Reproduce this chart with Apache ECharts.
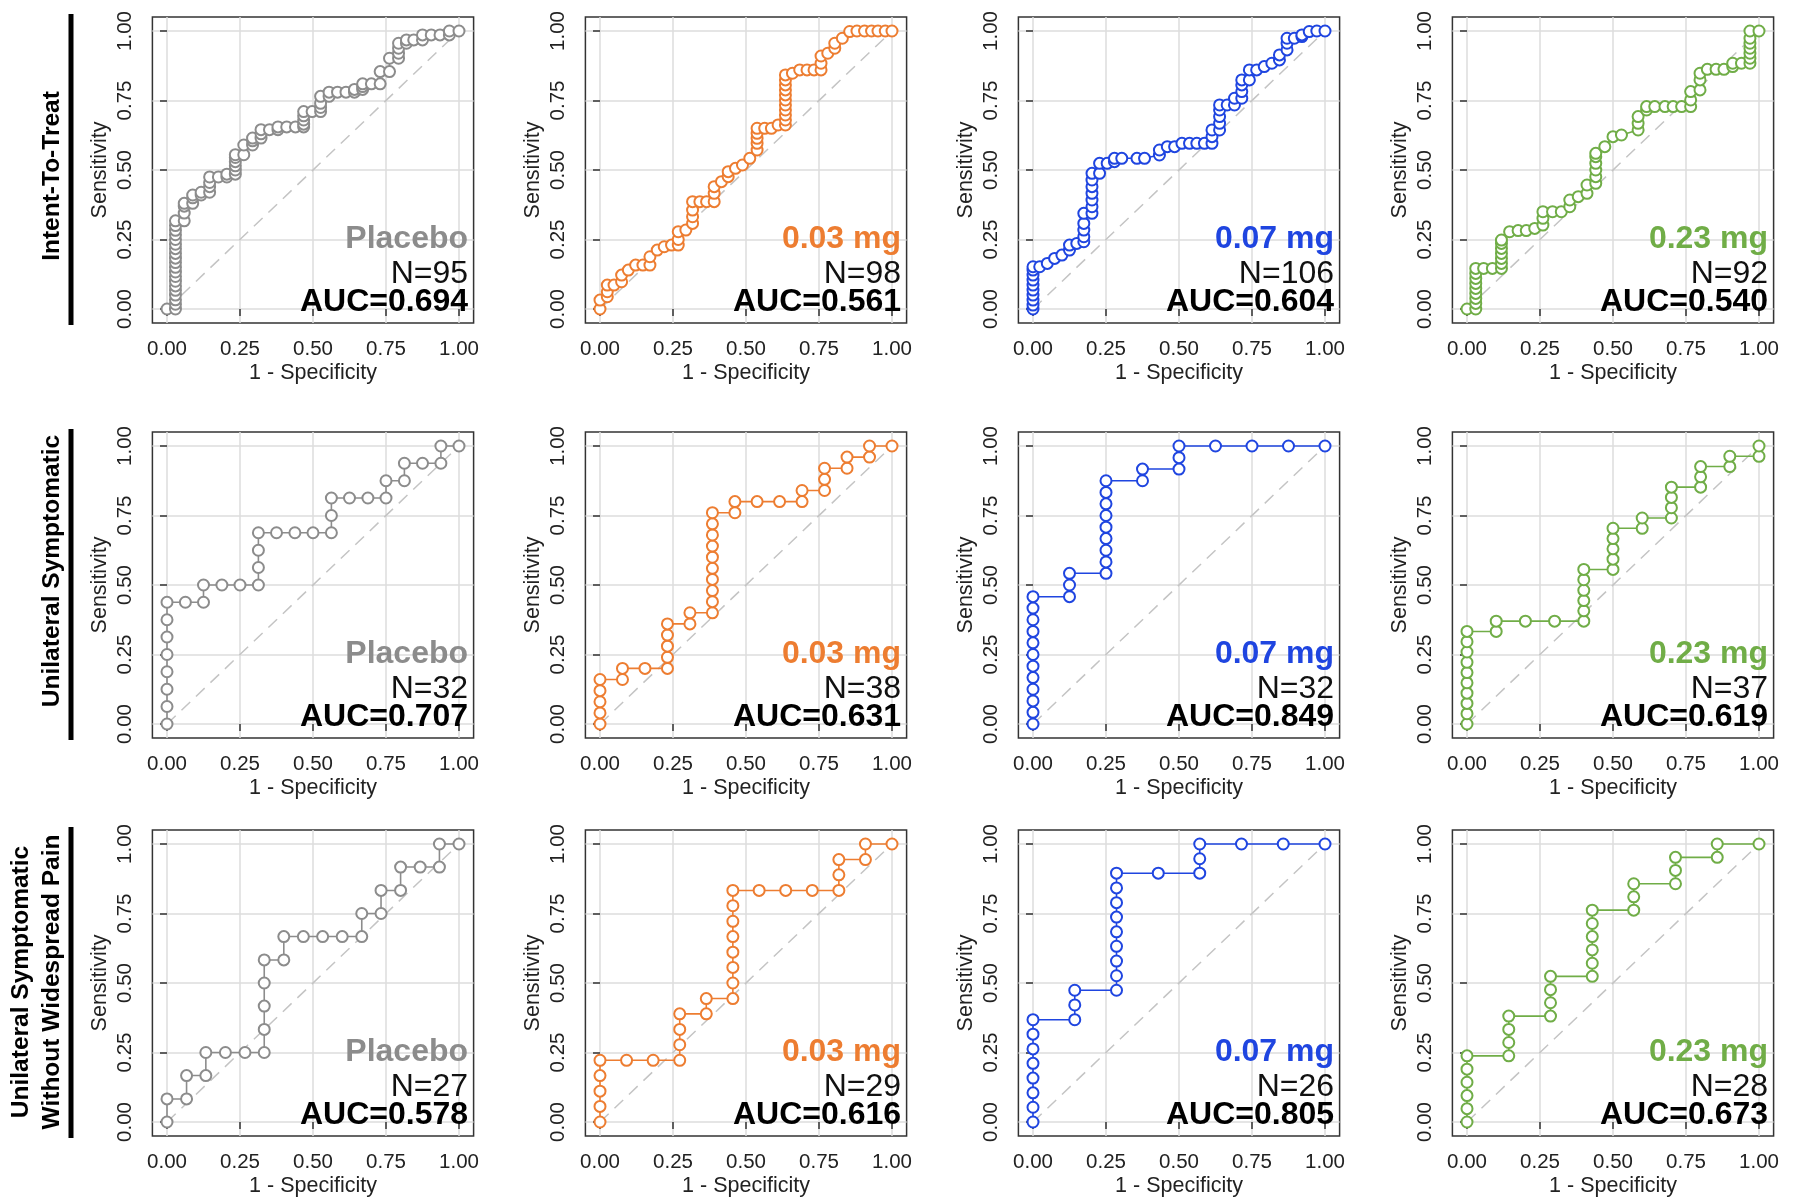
<!DOCTYPE html>
<html><head><meta charset="utf-8">
<script src="https://cdn.jsdelivr.net/npm/echarts@6/dist/echarts.min.js"></script>
<style>html,body{margin:0;padding:0;background:#fff}#c{width:1800px;height:1198px}</style>
</head><body><div id="c"></div>
<script>
// ---------- labels ----------
const rowLabels = [['Intent-To-Treat'], ['Unilateral Symptomatic'], ['Unilateral Symptomatic', 'Without Widespread Pain']];
const doseLabels = ['Placebo', '0.03 mg', '0.07 mg', '0.23 mg'];
const nValues = [[95, 98, 106, 92], [32, 38, 32, 37], [27, 29, 26, 28]];
const aucValues = [['0.694', '0.561', '0.604', '0.540'], ['0.707', '0.631', '0.849', '0.619'], ['0.578', '0.616', '0.805', '0.673']];
const tickValues = [0, 0.25, 0.5, 0.75, 1];
const diagonal = [[0, 0], [1, 1]];

// ---------- ROC points [1 - specificity, sensitivity] ----------
const ittPlacebo = [[0,0],[0.029,0],[0.029,0.017],[0.029,0.033],[0.029,0.05],[0.029,0.067],[0.029,0.083],[0.029,0.1],[0.029,0.117],[0.029,0.133],[0.029,0.15],[0.029,0.167],[0.029,0.183],[0.029,0.2],[0.029,0.217],[0.029,0.233],[0.029,0.25],[0.029,0.267],[0.029,0.283],[0.029,0.3],[0.029,0.317],[0.059,0.317],[0.059,0.345],[0.059,0.37],[0.059,0.38],[0.088,0.38],[0.088,0.4],[0.088,0.41],[0.117,0.41],[0.117,0.42],[0.146,0.42],[0.146,0.44],[0.146,0.455],[0.146,0.475],[0.176,0.475],[0.205,0.475],[0.205,0.485],[0.234,0.485],[0.234,0.5],[0.234,0.515],[0.234,0.53],[0.234,0.545],[0.234,0.555],[0.263,0.555],[0.263,0.59],[0.293,0.59],[0.293,0.605],[0.293,0.615],[0.322,0.615],[0.322,0.63],[0.322,0.645],[0.351,0.645],[0.38,0.645],[0.38,0.655],[0.41,0.655],[0.44,0.655],[0.468,0.655],[0.468,0.665],[0.468,0.68],[0.468,0.695],[0.468,0.71],[0.497,0.71],[0.526,0.71],[0.526,0.725],[0.526,0.74],[0.526,0.765],[0.555,0.765],[0.555,0.78],[0.584,0.78],[0.613,0.78],[0.642,0.78],[0.642,0.79],[0.67,0.79],[0.67,0.8],[0.67,0.81],[0.7,0.81],[0.73,0.81],[0.73,0.854],[0.762,0.854],[0.762,0.902],[0.793,0.902],[0.793,0.92],[0.793,0.938],[0.793,0.956],[0.82,0.956],[0.82,0.968],[0.845,0.968],[0.875,0.968],[0.875,0.986],[0.905,0.986],[0.935,0.986],[0.967,0.986],[0.967,1],[1,1]];
const ittDose003 = [[0,0],[0,0.032],[0.025,0.044],[0.025,0.062],[0.025,0.086],[0.048,0.086],[0.074,0.098],[0.074,0.122],[0.097,0.14],[0.122,0.158],[0.147,0.158],[0.171,0.158],[0.171,0.188],[0.196,0.212],[0.22,0.224],[0.245,0.23],[0.268,0.23],[0.268,0.25],[0.268,0.278],[0.294,0.284],[0.317,0.308],[0.317,0.332],[0.317,0.356],[0.317,0.386],[0.342,0.386],[0.365,0.386],[0.391,0.386],[0.391,0.416],[0.391,0.44],[0.416,0.458],[0.439,0.476],[0.439,0.494],[0.464,0.506],[0.488,0.518],[0.513,0.542],[0.538,0.572],[0.538,0.596],[0.538,0.614],[0.538,0.632],[0.538,0.65],[0.564,0.65],[0.587,0.65],[0.61,0.662],[0.635,0.662],[0.635,0.68],[0.635,0.698],[0.635,0.716],[0.635,0.734],[0.635,0.752],[0.635,0.77],[0.635,0.788],[0.635,0.806],[0.635,0.824],[0.635,0.842],[0.659,0.848],[0.684,0.86],[0.709,0.86],[0.733,0.86],[0.757,0.86],[0.757,0.884],[0.757,0.91],[0.78,0.92],[0.804,0.938],[0.804,0.956],[0.83,0.974],[0.855,0.998],[0.88,1],[0.906,1],[0.93,1],[0.952,1],[0.977,1],[1,1]];
const ittDose007 = [[0,0],[0,0.014],[0,0.032],[0,0.05],[0,0.068],[0,0.086],[0,0.104],[0,0.122],[0,0.14],[0,0.152],[0.023,0.152],[0.049,0.164],[0.074,0.182],[0.099,0.194],[0.125,0.212],[0.125,0.23],[0.15,0.236],[0.174,0.242],[0.174,0.26],[0.174,0.284],[0.174,0.308],[0.174,0.344],[0.202,0.344],[0.202,0.368],[0.202,0.392],[0.202,0.416],[0.202,0.44],[0.202,0.464],[0.202,0.488],[0.228,0.488],[0.228,0.524],[0.254,0.524],[0.279,0.53],[0.279,0.542],[0.304,0.542],[0.356,0.542],[0.382,0.542],[0.433,0.554],[0.433,0.572],[0.46,0.584],[0.485,0.584],[0.51,0.596],[0.536,0.596],[0.561,0.596],[0.587,0.596],[0.613,0.596],[0.613,0.62],[0.613,0.644],[0.639,0.644],[0.639,0.668],[0.639,0.692],[0.639,0.716],[0.639,0.734],[0.665,0.734],[0.69,0.734],[0.69,0.758],[0.715,0.758],[0.715,0.782],[0.715,0.806],[0.715,0.824],[0.741,0.824],[0.741,0.86],[0.766,0.86],[0.792,0.872],[0.818,0.884],[0.844,0.896],[0.844,0.914],[0.87,0.932],[0.87,0.956],[0.87,0.974],[0.895,0.974],[0.921,0.98],[0.921,0.986],[0.946,0.998],[0.972,1],[1,1]];
const ittDose023 = [[0,0],[0.03,0],[0.03,0.02],[0.03,0.038],[0.03,0.056],[0.03,0.074],[0.03,0.092],[0.03,0.11],[0.03,0.128],[0.03,0.146],[0.057,0.146],[0.087,0.146],[0.118,0.146],[0.118,0.164],[0.118,0.182],[0.118,0.2],[0.118,0.218],[0.118,0.236],[0.118,0.248],[0.146,0.278],[0.175,0.282],[0.203,0.282],[0.232,0.29],[0.26,0.302],[0.26,0.326],[0.26,0.35],[0.293,0.35],[0.323,0.35],[0.352,0.368],[0.352,0.392],[0.381,0.404],[0.411,0.416],[0.411,0.446],[0.441,0.452],[0.441,0.476],[0.441,0.5],[0.441,0.524],[0.441,0.548],[0.441,0.56],[0.472,0.584],[0.5,0.62],[0.529,0.626],[0.586,0.644],[0.586,0.668],[0.586,0.692],[0.615,0.716],[0.615,0.728],[0.643,0.728],[0.678,0.728],[0.706,0.728],[0.735,0.728],[0.766,0.728],[0.766,0.752],[0.766,0.782],[0.798,0.788],[0.798,0.824],[0.798,0.848],[0.823,0.862],[0.853,0.862],[0.88,0.862],[0.91,0.872],[0.91,0.884],[0.94,0.884],[0.969,0.884],[0.969,0.902],[0.969,0.92],[0.969,0.938],[0.969,0.956],[0.969,0.974],[0.969,1],[1,1]];

const usPlacebo = [[0,0],[0,0.063],[0,0.125],[0,0.188],[0,0.25],[0,0.313],[0,0.375],[0,0.438],[0.063,0.438],[0.125,0.438],[0.125,0.5],[0.188,0.5],[0.25,0.5],[0.313,0.5],[0.313,0.563],[0.313,0.625],[0.313,0.688],[0.375,0.688],[0.438,0.688],[0.5,0.688],[0.563,0.688],[0.563,0.75],[0.563,0.813],[0.625,0.813],[0.688,0.813],[0.75,0.813],[0.75,0.875],[0.813,0.875],[0.813,0.938],[0.875,0.938],[0.938,0.938],[0.938,1],[1,1]];
const usDose003 = [[0,0],[0,0.04],[0,0.08],[0,0.12],[0,0.16],[0.077,0.16],[0.077,0.2],[0.154,0.2],[0.231,0.2],[0.231,0.24],[0.231,0.28],[0.231,0.32],[0.231,0.36],[0.308,0.36],[0.308,0.4],[0.385,0.4],[0.385,0.44],[0.385,0.48],[0.385,0.52],[0.385,0.56],[0.385,0.6],[0.385,0.64],[0.385,0.68],[0.385,0.72],[0.385,0.76],[0.462,0.76],[0.462,0.8],[0.538,0.8],[0.615,0.8],[0.692,0.8],[0.692,0.84],[0.769,0.84],[0.769,0.88],[0.769,0.92],[0.846,0.92],[0.846,0.96],[0.923,0.96],[0.923,1],[1,1]];
const usDose007 = [[0,0],[0,0.042],[0,0.083],[0,0.125],[0,0.167],[0,0.208],[0,0.25],[0,0.292],[0,0.333],[0,0.375],[0,0.417],[0,0.458],[0.125,0.458],[0.125,0.5],[0.125,0.542],[0.25,0.542],[0.25,0.583],[0.25,0.625],[0.25,0.667],[0.25,0.708],[0.25,0.75],[0.25,0.792],[0.25,0.833],[0.25,0.875],[0.375,0.875],[0.375,0.917],[0.5,0.917],[0.5,0.958],[0.5,1],[0.625,1],[0.75,1],[0.875,1],[1,1]];
const usDose023 = [[0,0],[0,0.037],[0,0.074],[0,0.111],[0,0.148],[0,0.185],[0,0.222],[0,0.259],[0,0.296],[0,0.333],[0.1,0.333],[0.1,0.37],[0.2,0.37],[0.3,0.37],[0.4,0.37],[0.4,0.407],[0.4,0.444],[0.4,0.481],[0.4,0.519],[0.4,0.556],[0.5,0.556],[0.5,0.593],[0.5,0.63],[0.5,0.667],[0.5,0.704],[0.6,0.704],[0.6,0.741],[0.7,0.741],[0.7,0.778],[0.7,0.815],[0.7,0.852],[0.8,0.852],[0.8,0.889],[0.8,0.926],[0.9,0.926],[0.9,0.963],[1,0.963],[1,1]];

const uwPlacebo = [[0,0],[0,0.083],[0.067,0.083],[0.067,0.167],[0.133,0.167],[0.133,0.25],[0.2,0.25],[0.267,0.25],[0.333,0.25],[0.333,0.333],[0.333,0.417],[0.333,0.5],[0.333,0.583],[0.4,0.583],[0.4,0.667],[0.467,0.667],[0.533,0.667],[0.6,0.667],[0.667,0.667],[0.667,0.75],[0.733,0.75],[0.733,0.833],[0.8,0.833],[0.8,0.917],[0.867,0.917],[0.933,0.917],[0.933,1],[1,1]];
const uwDose003 = [[0,0],[0,0.056],[0,0.111],[0,0.167],[0,0.222],[0.091,0.222],[0.182,0.222],[0.273,0.222],[0.273,0.278],[0.273,0.333],[0.273,0.389],[0.364,0.389],[0.364,0.444],[0.455,0.444],[0.455,0.5],[0.455,0.556],[0.455,0.611],[0.455,0.667],[0.455,0.722],[0.455,0.778],[0.455,0.833],[0.545,0.833],[0.636,0.833],[0.727,0.833],[0.818,0.833],[0.818,0.889],[0.818,0.944],[0.909,0.944],[0.909,1],[1,1]];
const uwDose007 = [[0,0],[0,0.053],[0,0.105],[0,0.158],[0,0.211],[0,0.263],[0,0.316],[0,0.368],[0.143,0.368],[0.143,0.421],[0.143,0.474],[0.286,0.474],[0.286,0.526],[0.286,0.579],[0.286,0.632],[0.286,0.684],[0.286,0.737],[0.286,0.789],[0.286,0.842],[0.286,0.895],[0.429,0.895],[0.571,0.895],[0.571,0.947],[0.571,1],[0.714,1],[0.857,1],[1,1]];
const uwDose023 = [[0,0],[0,0.048],[0,0.095],[0,0.143],[0,0.19],[0,0.238],[0.143,0.238],[0.143,0.286],[0.143,0.333],[0.143,0.381],[0.286,0.381],[0.286,0.429],[0.286,0.476],[0.286,0.524],[0.429,0.524],[0.429,0.571],[0.429,0.619],[0.429,0.667],[0.429,0.714],[0.429,0.762],[0.571,0.762],[0.571,0.81],[0.571,0.857],[0.714,0.857],[0.714,0.905],[0.714,0.952],[0.857,0.952],[0.857,1],[1,1]];

const curves = [
  [ittPlacebo, ittDose003, ittDose007, ittDose023],
  [usPlacebo, usDose003, usDose007, usDose023],
  [uwPlacebo, uwDose003, uwDose007, uwDose023]
];

// ---------- styling / layout ----------
const doseColors = ['#8c8c8c', '#ed7d31', '#1f45e0', '#70ad47'];
const FONT = '"Liberation Sans", Arial, Helvetica, sans-serif';
const gridLeft = [152.4, 585.4, 1018.4, 1452.4];
const gridTop = [17.1, 432.1, 830.1];
const gridW = 321.2, gridH = 305.8;
const rowLabelY = [176, 571, 982];

const grids = [], xAxes = [], yAxes = [], series = [];
for (let r = 0; r < 3; r++) {
  for (let c = 0; c < 4; c++) {
    const i = r * 4 + c;
    grids.push({ left: gridLeft[c], top: gridTop[r], width: gridW, height: gridH, show: true,
      borderColor: '#333', borderWidth: 1.5, backgroundColor: 'transparent', containLabel: false });
    const axisCommon = {
      type: 'value', gridIndex: i, min: -0.05, max: 1.05,
      axisLine: { show: false },
      axisTick: { show: true, customValues: tickValues, length: 7, inside: false, lineStyle: { color: '#333', width: 1.5 } },
      axisLabel: { customValues: tickValues, formatter: v => v.toFixed(2), fontSize: 20.5, color: '#222', fontFamily: FONT },
      splitLine: { show: true, lineStyle: { color: '#dcdcdc', width: 1.5 } },
      nameLocation: 'middle',
      nameTextStyle: { fontSize: 21.5, color: '#222', fontFamily: FONT }
    };
    xAxes.push(Object.assign({}, axisCommon, {
      name: '1 - Specificity', nameGap: 39,
      axisLabel: Object.assign({}, axisCommon.axisLabel, { margin: 16 })
    }));
    yAxes.push(Object.assign({}, axisCommon, {
      name: 'Sensitivity', nameGap: 41,
      axisLabel: Object.assign({}, axisCommon.axisLabel, { margin: 17, rotate: 90 })
    }));
    series.push({
      type: 'line', xAxisIndex: i, yAxisIndex: i, data: diagonal, symbol: 'none', silent: true, z: 1,
      lineStyle: { color: '#c4c4c4', width: 1.5, type: [12, 8] }
    });
    series.push({
      type: 'line', xAxisIndex: i, yAxisIndex: i, data: curves[r][c], z: 3,
      symbol: 'emptyCircle', symbolSize: 11, showSymbol: true, showAllSymbol: true,
      lineStyle: { color: doseColors[c], width: 1.6 },
      itemStyle: { color: doseColors[c], borderWidth: 1.8 }
    });
  }
}

const chart = echarts.init(document.getElementById('c'), null, { renderer: 'canvas' });
chart.setOption({
  animation: false, backgroundColor: '#fff',
  grid: grids, xAxis: xAxes, yAxis: yAxes, series: series
});

// ---------- text annotations ----------
const graphics = [];
for (let r = 0; r < 3; r++) {
  const lines = rowLabels[r];
  lines.forEach((t, k) => {
    const x = lines.length === 1 ? 52 : (k === 0 ? 21 : 52);
    graphics.push({ type: 'text', x: x, y: rowLabelY[r], rotation: Math.PI / 2,
      style: { text: t, align: 'center', verticalAlign: 'middle', font: 'bold 24.5px ' + FONT, fill: '#000' } });
  });
  graphics.push({ type: 'rect', shape: { x: 68.5, y: gridTop[r] - 3, width: 5, height: gridH + 5 }, style: { fill: '#000' } });
  for (let c = 0; c < 4; c++) {
    const i = r * 4 + c;
    const p1 = chart.convertToPixel({ gridIndex: i }, [1.031, 0.25]);
    const p2 = chart.convertToPixel({ gridIndex: i }, [1.031, 0.124]);
    const p3 = chart.convertToPixel({ gridIndex: i }, [1.031, 0.024]);
    graphics.push({ type: 'text', x: p1[0], y: p1[1], z: 10,
      style: { text: doseLabels[c], align: 'right', verticalAlign: 'middle', font: 'bold 32px ' + FONT, fill: doseColors[c] } });
    graphics.push({ type: 'text', x: p2[0], y: p2[1], z: 10,
      style: { text: 'N=' + nValues[r][c], align: 'right', verticalAlign: 'middle', font: '32px ' + FONT, fill: '#111' } });
    graphics.push({ type: 'text', x: p3[0], y: p3[1], z: 10,
      style: { text: 'AUC=' + aucValues[r][c], align: 'right', verticalAlign: 'middle', font: 'bold 32px ' + FONT, fill: '#000' } });
  }
}
chart.setOption({ graphic: graphics });
</script>
</body></html>
